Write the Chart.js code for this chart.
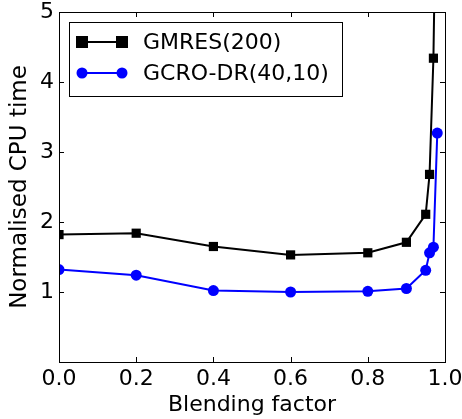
<!DOCTYPE html>
<html>
<head>
<meta charset="utf-8">
<script src="https://cdn.jsdelivr.net/npm/chart.js@4/dist/chart.umd.min.js"></script>
<style>
  html, body { margin: 0; padding: 0; background: #fff; }
  #wrap { width: 462px; height: 419px; }
</style>
</head>
<body>
<div id="wrap"><canvas id="cpuChart" width="462" height="419"></canvas></div>
<script>
// blending factor vs normalised CPU time

const blendX = [0, 0.2, 0.4, 0.6, 0.8, 0.9, 0.95, 0.96, 0.97, 0.98];
const gmresTime = [1.82, 1.84, 1.65, 1.53, 1.56, 1.71, 2.11, 2.68, 4.34, 8.0];
const gcroTime = [1.32, 1.24, 1.02, 1.00, 1.01, 1.05, 1.31, 1.56, 1.64, 3.27];
const seriesNames = ['GMRES(200)', 'GCRO-DR(40,10)'];
const xTicks = [0, 0.2, 0.4, 0.6, 0.8, 1.0];
const yTicks = [0, 1, 2, 3, 4, 5];

const FONT = 'DejaVu Sans';
const FSIZE = 22;

function toPoints(ys) {
  return blendX.map((x, i) => ({ x: x, y: ys[i] }));
}

// keep the plot box fixed, labels may hang over the edges
function noOverflow(scale) {
  scale.paddingLeft = 0;
  scale.paddingRight = 0;
  scale.paddingTop = 0;
  scale.paddingBottom = 0;
}

// frame with inward ticks on all four sides (matplotlib classic look)
const frameTicks = {
  id: 'frameTicks',
  afterDatasetsDraw(chart) {
    const ctx = chart.ctx;
    const a = chart.chartArea;
    const xs = chart.scales.x, ys = chart.scales.y;
    const len = 5;
    ctx.save();
    ctx.strokeStyle = '#000';
    ctx.lineWidth = 1;
    ctx.beginPath();
    xTicks.forEach(v => {
      const px = Math.round(xs.getPixelForValue(v)) + 0.5;
      ctx.moveTo(px, a.bottom); ctx.lineTo(px, a.bottom - len);
      ctx.moveTo(px, a.top); ctx.lineTo(px, a.top + len);
    });
    yTicks.forEach(v => {
      const py = Math.round(ys.getPixelForValue(v)) + 0.5;
      ctx.moveTo(a.left, py); ctx.lineTo(a.left + len, py);
      ctx.moveTo(a.right, py); ctx.lineTo(a.right - len, py);
    });
    ctx.stroke();
    ctx.strokeRect(Math.round(a.left) + 0.5, Math.round(a.top) + 0.5,
      Math.round(a.right - a.left), Math.round(a.bottom - a.top));
    ctx.restore();
  }
};

// legend box with line + marker samples
const lineLegend = {
  id: 'lineLegend',
  afterDraw(chart) {
    const ctx = chart.ctx;
    const bx = 69, by = 22, bw = 273, bh = 74;
    ctx.save();
    ctx.fillStyle = '#fff';
    ctx.fillRect(bx, by, bw, bh);
    ctx.strokeStyle = '#000';
    ctx.lineWidth = 1;
    ctx.strokeRect(bx + 0.5, by + 0.5, bw, bh);
    chart.data.datasets.forEach((ds, i) => {
      const y = 42 + i * 31;
      ctx.strokeStyle = ds.borderColor;
      ctx.lineWidth = 2;
      ctx.beginPath();
      ctx.moveTo(82, y); ctx.lineTo(122, y);
      ctx.stroke();
      ctx.fillStyle = ds.backgroundColor;
      [82, 122].forEach(px => {
        if (ds.pointStyle === 'rect') {
          ctx.fillRect(px - 6, y - 6, 12, 12);
        } else {
          ctx.beginPath();
          ctx.arc(px, y, 5.5, 0, Math.PI * 2);
          ctx.fill();
        }
      });
      ctx.fillStyle = '#000';
      ctx.font = FSIZE + 'px "' + FONT + '"';
      ctx.textBaseline = 'middle';
      ctx.fillText(ds.label, 143, y + 1);
    });
    ctx.restore();
  }
};

const cpuData = {
  datasets: [
    {
      label: seriesNames[0],
      data: toPoints(gmresTime),
      borderColor: '#000000',
      backgroundColor: '#000000',
      borderWidth: 2,
      pointStyle: 'rect',
      pointRadius: 6.5,
      pointBorderWidth: 0,
      clip: 0
    },
    {
      label: seriesNames[1],
      data: toPoints(gcroTime),
      borderColor: '#0000ff',
      backgroundColor: '#0000ff',
      borderWidth: 2,
      pointStyle: 'circle',
      pointRadius: 5.5,
      pointBorderWidth: 0,
      clip: 0
    }
  ]
};

const config = {
  type: 'line',
  data: cpuData,
  options: {
    responsive: false,
    animation: false,
    events: [],
    layout: { padding: { left: 0, right: 17, top: 12, bottom: 0 } },
    plugins: {
      legend: { display: false },
      tooltip: { enabled: false }
    },
    scales: {
      x: {
        type: 'linear',
        min: 0,
        max: 1,
        afterBuildTicks(scale) { scale.ticks = xTicks.map(v => ({ value: v })); },
        afterFit(scale) { scale.height = 57; noOverflow(scale); },
        grid: { display: false, drawTicks: false, tickLength: 0 },
        border: { display: false },
        ticks: {
          color: '#000',
          font: { family: FONT, size: FSIZE },
          padding: 4,
          maxRotation: 0,
          callback: v => v.toFixed(1)
        },
        title: {
          display: true,
          text: 'Blending factor',
          color: '#000',
          font: { family: FONT, size: FSIZE },
          padding: { top: 0, bottom: 1 }
        }
      },
      y: {
        type: 'linear',
        min: 0,
        max: 5,
        afterBuildTicks(scale) { scale.ticks = yTicks.map(v => ({ value: v })); },
        afterFit(scale) { scale.width = 59; noOverflow(scale); },
        grid: { display: false, drawTicks: false, tickLength: 0 },
        border: { display: false },
        ticks: {
          color: '#000',
          font: { family: FONT, size: FSIZE },
          padding: 5,
          callback: v => (v === 0 ? '' : String(v))
        },
        title: {
          display: true,
          text: 'Normalised CPU time',
          color: '#000',
          font: { family: FONT, size: 23 },
          padding: { top: 6, bottom: 0 }
        }
      }
    }
  },
  plugins: [frameTicks, lineLegend]
};

var cpuChart = new Chart(document.getElementById('cpuChart'), config);
</script>
</body>
</html>
